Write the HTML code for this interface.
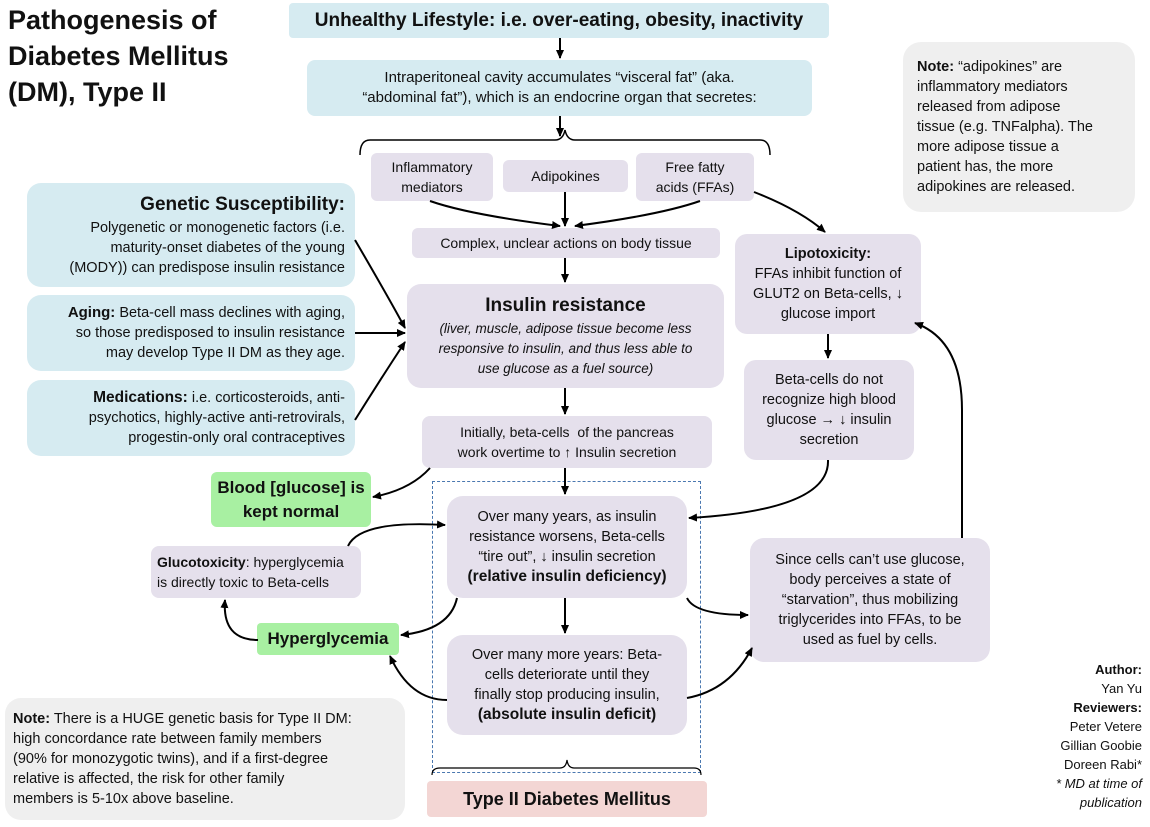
<!DOCTYPE html>
<html><head><meta charset="utf-8"><style>
body{margin:0;width:1150px;height:827px;background:#fff;position:relative;overflow:hidden;font-family:"Liberation Sans",sans-serif;color:#111}
.b{position:absolute;box-sizing:border-box;display:flex;flex-direction:column;justify-content:center;align-items:center;text-align:center;border-radius:12px;font-size:14px;line-height:20px;padding:2px 4px;white-space:nowrap}
.bl{background:#d6ebf1}.pu{background:#e5e0ec}.gr{background:#a8f0a2}.gy{background:#efefef}.pk{background:#f3d6d4}
.r{text-align:right;align-items:flex-end}
.l{text-align:left;align-items:flex-start}
b{font-weight:bold}
svg{position:absolute;left:0;top:0}
</style></head><body>
<div style="position:absolute;left:8px;top:2px;font-size:27px;font-weight:bold;line-height:36px">Pathogenesis of<br>Diabetes Mellitus<br>(DM), Type II</div>

<div class="b bl" style="left:289px;top:3px;width:540px;height:35px;font-size:19px;font-weight:bold;border-radius:4px">Unhealthy Lifestyle: i.e. over-eating, obesity, inactivity</div>
<div class="b bl" style="left:307px;top:60px;width:505px;height:56px;font-size:15px;border-radius:8px">Intraperitoneal cavity accumulates “visceral fat” (aka.<br>“abdominal fat”), which is an endocrine organ that secretes:</div>

<div class="b pu" style="left:371px;top:153px;width:122px;height:48px;border-radius:6px">Inflammatory<br>mediators</div>
<div class="b pu" style="left:503px;top:160px;width:125px;height:32px;border-radius:6px">Adipokines</div>
<div class="b pu" style="left:636px;top:153px;width:118px;height:48px;border-radius:6px">Free fatty<br>acids (FFAs)</div>
<div class="b pu" style="left:412px;top:228px;width:308px;height:30px;border-radius:6px">Complex, unclear actions on body tissue</div>
<div class="b pu" style="left:407px;top:284px;width:317px;height:104px;border-radius:14px;font-size:13.5px"><div style="font-size:19px;font-weight:bold;line-height:26px">Insulin resistance</div><i>(liver, muscle, adipose tissue become less<br>responsive to insulin, and thus less able to<br>use glucose as a fuel source)</i></div>
<div class="b pu" style="left:422px;top:416px;width:290px;height:52px;border-radius:8px">Initially, beta-cells&nbsp; of the pancreas<br>work overtime to ↑ Insulin secretion</div>

<div style="position:absolute;left:432px;top:481px;width:269px;height:292px;border:1px dashed #4a78b0;box-sizing:border-box"></div>
<div class="b pu" style="left:447px;top:496px;width:240px;height:102px;border-radius:16px;font-size:14.5px">Over many years, as insulin<br>resistance worsens, Beta-cells<br>“tire out”, ↓ insulin secretion<b style="font-size:15.5px">(relative insulin deficiency)</b></div>
<div class="b pu" style="left:447px;top:635px;width:240px;height:100px;border-radius:16px;font-size:14.5px">Over many more years: Beta-<br>cells deteriorate until they<br>finally stop producing insulin,<b style="font-size:15.5px">(absolute insulin deficit)</b></div>
<div class="b pk" style="left:427px;top:781px;width:280px;height:36px;font-size:18px;font-weight:bold;border-radius:4px">Type II Diabetes Mellitus</div>

<div class="b bl r" style="left:27px;top:183px;width:328px;height:104px;border-radius:14px;padding:4px 10px;font-size:14.5px"><div style="font-size:19px;font-weight:bold;line-height:26px">Genetic Susceptibility:</div>Polygenetic or monogenetic factors (i.e.<br>maturity-onset diabetes of the young<br>(MODY)) can predispose insulin resistance</div>
<div class="b bl r" style="left:27px;top:295px;width:328px;height:76px;border-radius:14px;padding:4px 10px;font-size:14.5px"><div><b style="font-size:15px">Aging:</b> Beta-cell mass declines with aging,<br>so those predisposed to insulin resistance<br>may develop Type II DM as they age.</div></div>
<div class="b bl r" style="left:27px;top:380px;width:328px;height:76px;border-radius:14px;padding:4px 10px;font-size:14.5px"><div><b style="font-size:15.5px">Medications:</b> i.e. corticosteroids, anti-<br>psychotics, highly-active anti-retrovirals,<br>progestin-only oral contraceptives</div></div>

<div class="b gr" style="left:211px;top:472px;width:160px;height:55px;font-size:17px;font-weight:bold;line-height:24px;border-radius:6px">Blood [glucose] is<br>kept normal</div>
<div class="b pu l" style="left:151px;top:546px;width:210px;height:52px;border-radius:8px;padding:4px 6px;font-size:14px"><div><b>Glucotoxicity</b>: hyperglycemia<br>is directly toxic to Beta-cells</div></div>
<div class="b gr" style="left:257px;top:623px;width:142px;height:32px;font-size:17px;font-weight:bold;border-radius:4px">Hyperglycemia</div>

<div class="b gy l" style="left:5px;top:698px;width:400px;height:122px;border-radius:16px;padding:6px 8px;font-size:14.5px"><div><b>Note:</b> There is a HUGE genetic basis for Type II DM:<br>high concordance rate between family members<br>(90% for monozygotic twins), and if a first-degree<br>relative is affected, the risk for other family<br>members is 5-10x above baseline.</div></div>
<div class="b gy l" style="left:903px;top:42px;width:232px;height:170px;border-radius:18px;padding:6px 14px;font-size:14.5px"><div><b>Note:</b> “adipokines” are<br>inflammatory mediators<br>released from adipose<br>tissue (e.g. TNFalpha). The<br>more adipose tissue a<br>patient has, the more<br>adipokines are released.</div></div>

<div class="b pu" style="left:735px;top:234px;width:186px;height:100px;border-radius:12px;font-size:14.5px"><b>Lipotoxicity:</b>FFAs inhibit function of<br>GLUT2 on Beta-cells, ↓<br>glucose import</div>
<div class="b pu" style="left:744px;top:360px;width:170px;height:100px;border-radius:12px;font-size:14.5px">Beta-cells do not<br>recognize high blood<br>glucose → ↓ insulin<br>secretion</div>
<div class="b pu" style="left:750px;top:538px;width:240px;height:124px;border-radius:14px;font-size:14.5px">Since cells can’t use glucose,<br>body perceives a state of<br>“starvation”, thus mobilizing<br>triglycerides into FFAs, to be<br>used as fuel by cells.</div>

<div style="position:absolute;right:8px;top:660px;text-align:right;font-size:13px;line-height:19px"><b>Author:</b><br>Yan Yu<br><b>Reviewers:</b><br>Peter Vetere<br>Gillian Goobie<br>Doreen Rabi*<br><i>* MD at time of<br>publication</i></div>

<svg width="1150" height="827" viewBox="0 0 1150 827">
<defs><marker id="a" markerWidth="10" markerHeight="10" refX="8" refY="5" orient="auto" markerUnits="userSpaceOnUse"><path d="M0,1 L9,5 L0,9 z" fill="#000"/></marker></defs>
<g stroke="#000" stroke-width="2" fill="none" marker-end="url(#a)">
<path d="M560,38 V58"/>
<path d="M560,116 V136"/>
<path d="M565,192 V226"/>
<path d="M430,201 Q470,215 560,226"/>
<path d="M700,201 Q660,215 575,226"/>
<path d="M754,192 Q800,210 825,232"/>
<path d="M565,258 V282"/>
<path d="M565,388 V414"/>
<path d="M565,468 V494"/>
<path d="M430,468 Q410,490 373,497"/>
<path d="M565,598 V633"/>
<path d="M355,240 Q390,300 405,328"/>
<path d="M355,333 L405,333"/>
<path d="M355,420 Q380,380 405,342"/>
<path d="M348,546 Q360,520 445,525"/>
<path d="M457,598 Q450,630 401,635"/>
<path d="M258,640 Q222,640 225,600"/>
<path d="M447,700 Q410,700 390,656"/>
<path d="M687,598 Q695,615 748,615"/>
<path d="M687,698 Q730,690 752,648"/>
<path d="M828,334 V358"/>
<path d="M828,460 Q830,510 689,518"/>
<path d="M962,538 V410 Q962,340 915,323"/>
</g>
<path d="M360,155 Q360,140 370,140 H555 Q563,140 565,130 Q567,140 575,140 H760 Q770,140 770,155" stroke="#000" stroke-width="1.5" fill="none"/>
<path d="M432,775 Q432,768 440,768 H560 Q566,768 567,760 Q568,768 574,768 H694 Q701,768 701,775" stroke="#000" stroke-width="1.2" fill="none"/>
</svg>
</body></html>
